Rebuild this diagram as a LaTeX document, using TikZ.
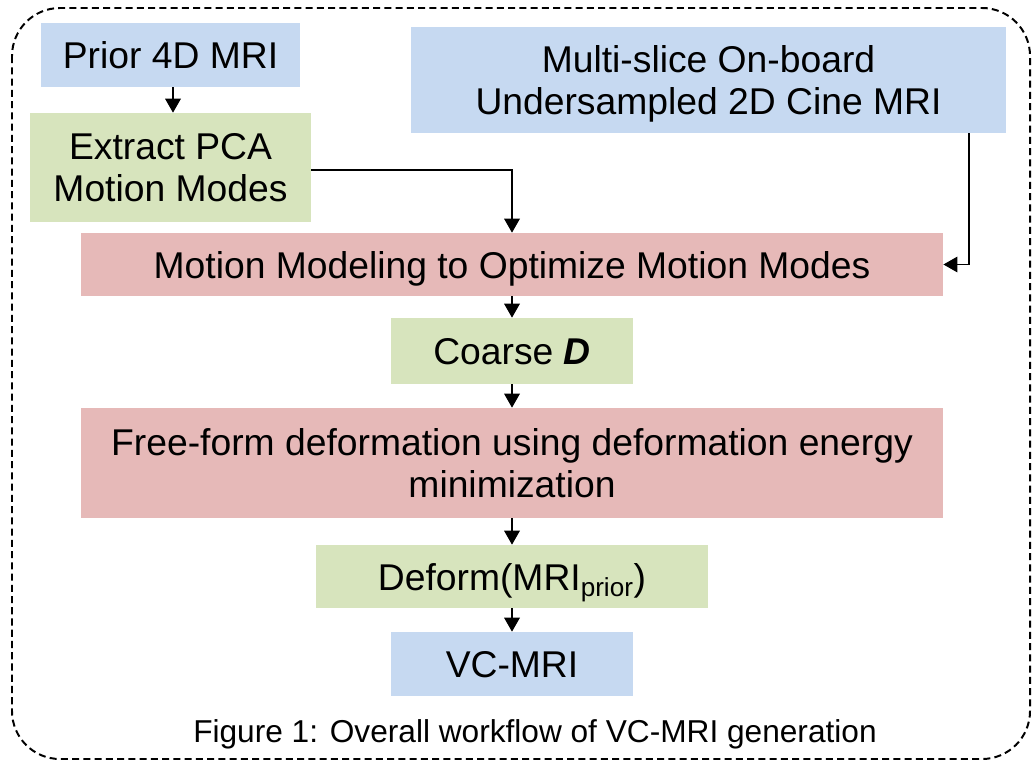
\documentclass[tikz,border=0pt]{standalone}
\usepackage{fontspec}
\setmainfont{Liberation Sans}
\usepackage{xcolor}
\usetikzlibrary{arrows.meta,calc}

\definecolor{inblue}{HTML}{C6D9F1}
\definecolor{ingreen}{HTML}{D7E4BD}
\definecolor{inred}{HTML}{E6B9B8}

\tikzset{
  box/.style={inner sep=0pt, align=center, text depth=0pt, font=\fontsize{26.5}{30.5}\selectfont},
  bluebox/.style={box, fill=inblue},
  greenbox/.style={box, fill=ingreen},
  redbox/.style={box, fill=inred},
  flow/.style={line width=1.4pt, -{Triangle[width=11pt,length=10pt]}}
}

\begin{document}
\begin{tikzpicture}[x=0.025cm,y=-0.025cm]
  \useasboundingbox (0,0) rectangle (1036,761);
  % frame
  \draw[line width=1.4pt, dash pattern=on 5pt off 3pt, rounded corners=1.2cm]
    (12,8) rectangle (1030,759);

  \node[bluebox, minimum width=6.475cm, minimum height=1.6cm] (prior) at (170.5,55) {Prior 4D MRI};
  \node[greenbox, minimum width=7.025cm, minimum height=2.725cm] (extract) at (170.5,167.5) {Extract PCA\\Motion Modes};
  \node[bluebox, minimum width=14.875cm, minimum height=2.65cm] (multi) at (708.5,80) {Multi-slice On-board\\Undersampled 2D Cine MRI};
  \node[redbox, minimum width=21.55cm, minimum height=1.575cm] (motion) at (512,264.5) {Motion Modeling to Optimize Motion Modes};
  \node[greenbox, minimum width=6.05cm, minimum height=1.65cm] (coarse) at (512,351) {Coarse \textbf{\textit{D}}};
  \node[redbox, minimum width=21.55cm, minimum height=2.75cm] (free) at (512,463) {Free-form deformation using deformation energy\\minimization};
  \node[greenbox, minimum width=9.8cm, minimum height=1.575cm] (deform) at (512,576.5) {Deform(MRI\textsubscript{prior})};
  \node[bluebox, minimum width=6.05cm, minimum height=1.6cm] (vcmri) at (512,664) {VC-MRI};
  \node[font=\fontsize{22.5}{26}\selectfont, text depth=0pt] (caption) at (535,731) {Figure 1: Overall workflow of VC-MRI generation};

  \draw[flow] (prior.south -| 173,0) -- (extract.north -| 173,0);
  \draw[flow] ([yshift=-0.06cm]extract.east) -| (motion.north);
  \draw[flow] ([xshift=-0.925cm]multi.south east) |- (motion.east);
  \draw[flow] (motion) -- (coarse);
  \draw[flow] (coarse) -- (free);
  \draw[flow] (free) -- (deform);
  \draw[flow] (deform) -- (vcmri);
\end{tikzpicture}
\end{document}
